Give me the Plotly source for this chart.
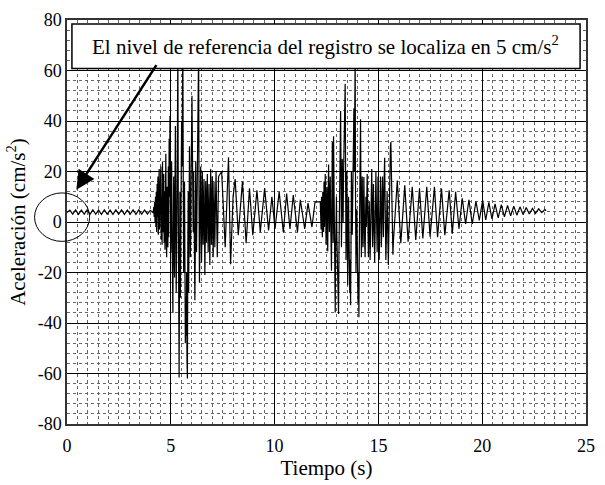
import numpy as np
import plotly.graph_objects as go

# ---------------- accelerogram record (time in s, acceleration in cm/s^2) ----------------
# pre-event ripple, evenly sampled from pre_t0 to pre_t1
pre_t0, pre_t1 = 0.0, 4.15
pre_a = [3.8, 4.7, 3.1, 4.8, 3.0, 4.7, 3.1, 4.8, 3.0, 4.8, 3.1, 4.7, 3.0, 4.8, 3.1, 4.7,
         3.0, 4.8, 3.1, 4.8, 3.0, 4.7, 3.1, 4.8, 3.0, 4.8, 3.1, 4.7, 3.2, 4.6, 3.6]

# first strong-motion burst, sampled every 0.02 s from burst1_t0 to burst1_t1
burst1_t0, burst1_t1 = 4.16, 7.30
burst1_a = [4.5, 6, 2, 8, 0, 10, -2, 12, -4, 15,
            2, 18, -5, 14, 21, -3, 16, 2, 22, -7,
            10, -9, 24, 6, -4, 19, -8, 12, -11, 20,
            27, -6, -14, 14, 4, -10, 22, -6, 33, 10,
            42, 6, -12, 8, 24, -5, -20, -36, -2, 18,
            -10, -22, 12, 38, 6, -28, -12, 8, 30, 68,
            10, -40, -61.6, -20, 12, -30, -8, 18, 40, 22,
            50, 70, 15, -20, 5, 16, -18, -48, -30, -45,
            -20, -55, -62, -10, 12, -28, -5, 30, 10, -14,
            -6, 20, 38, 50, 30, 10, -4, 20, 8, -20,
            -31, -10, 24, 5, -12, 10, 30, 15, 40, 68,
            10, -24, -10, 8, 22, 5, -16, -4, 20, 8,
            -9, 6, 17, 2, -21, -6, 16, 4, -8, 10,
            19, 3, -12, 0, 15, 6, -17, -2, 21, 8,
            -9, 4, 18, 2, -14, -3, 16, 6, -10, 2,
            15, 20, 8, -6, -14, -4, 12, 18]

# decaying oscillation between the two bursts
coda1_t = [7.45, 7.62, 7.78, 7.88, 8.00, 8.10, 8.25, 8.45, 8.63, 8.79, 8.95, 9.15, 9.31,
           9.52, 9.71, 9.87, 10.02, 10.22, 10.42, 10.58, 10.74, 10.90, 11.10, 11.24,
           11.45, 11.61, 11.80, 11.95]
coda1_a = [20, -10, 25.6, -16.7, 10, 17, -5.2, 16, -8.4, 13.4, -5.2, 12.6, -4,
           13.4, -3.3, 10, -2.7, 12, -4, 11.3, -2.7, 10.7, -4, 8.8,
           -2.7, 7.5, -2, 8]

# second strong-motion burst, sampled every 0.02 s from burst2_t0 to burst2_t1
burst2_t0, burst2_t1 = 12.20, 15.72
burst2_a = [8, 0, -3, 10, 4, -6, 12, 2, -4, 16,
            -2, 8, 19, 4, -9, 6, 14, -5, -11.6, 10,
            22.8, 8, -4, 12, 18, 2, -10, -19.3, 10, 31.7,
            12, -8, 34, 20, -6, -20, -35.8, -12, 4, 10,
            -6, -20, -10, -28, -36.4, -12, 12, 2, 26, 44,
            20, -10, 4, 25, 10, 0, 18, 30, 42, 50,
            54.7, 20, -15, 4, 20, -5, -25, -10, 10, -8,
            -20, -28, -15, -33, -10, 20, 8, -5, 10, 30,
            38, 45, 20, 40, 65, 10, -20, -5, 5, -15,
            -25, -32, -20, -37.7, -10, 12, 30, 40.7, 10, -14,
            -4, 18, 8, -10, 2, 17.8, 6, -8, -14, 0,
            10, -2, 6, 19, 8, -6, -14, -2, 8, -4,
            -15, -6, 10, 2, 21, 6, -10, -2, 15, 4,
            -8, -16, -4, 12, 20, 8, -6, -12, 2, 18,
            8, -8, -15, -3, 10, 18, 6, -10, -4, 12,
            18, 6, -6, 10, 20, 25.4, 10, -6, -15, -8,
            4, 12, 2, -10, -17, -6, 8, 18, 26, 30,
            31.7, 22, 8, -4, -10, -13, -8]

# final decaying tail
coda2_t = [15.91, 16.08, 16.27, 16.43, 16.63, 16.80, 16.98, 17.14, 17.33, 17.49, 17.70,
           17.85, 18.04, 18.20, 18.41, 18.56, 18.72, 18.88, 19.04, 19.20, 19.36, 19.52,
           19.70, 19.86, 20.02, 20.17, 20.32, 20.47, 20.62, 20.77, 20.92, 21.07, 21.22,
           21.37, 21.52, 21.67, 21.82, 21.97, 22.12, 22.27, 22.42, 22.57, 22.72, 22.87,
           23.02, 23.07]
coda2_a = [16.4, -8.4, 14.5, -7.8, 13.9, -7.1, 13.3, -6.5, 13.9, -5.8, 13.9,
           -6.0, 13.3, -5.2, 12.6, -4.6, 12.0, -2.7, 9.4, -0.8, 8.8, -0.8,
           8.2, 0.6, 8.6, 0.8, 7.8, 1.2, 7.2, 1.6, 6.9, 2.0, 6.6,
           2.4, 6.3, 2.7, 6.0, 3.0, 5.7, 3.2, 5.4, 3.4, 5.2, 3.7,
           5.0, 4.4]

# axis ticks
x_ticks = [0, 5, 10, 15, 20, 25]
x_tick_text = ["0", "5", "10", "15", "20", "25"]
y_ticks = [-80, -60, -40, -20, 0, 20, 40, 60, 80]
y_tick_text = ["-80", "-60", "-40", "-20", "0", "20", "40", "60", "80"]

x_title = "Tiempo (s)"
y_title = "Aceleración (cm/s<sup>2</sup>)"
note_text = "El nivel de referencia del registro se localiza en 5 cm/s<sup>2</sup>"

# ---------------- assemble the series ----------------
t = np.concatenate([
    np.linspace(pre_t0, pre_t1, len(pre_a)),
    np.linspace(burst1_t0, burst1_t1, len(burst1_a)),
    coda1_t,
    np.linspace(burst2_t0, burst2_t1, len(burst2_a)),
    coda2_t,
])
a = np.concatenate([pre_a, burst1_a, coda1_a, burst2_a, coda2_a])

X_RANGE = [0, 25]
Y_RANGE = [-80, 80]
SERIF = "Liberation Serif, DejaVu Serif"

fig = go.Figure()
fig.add_trace(go.Scatter(x=t, y=a, mode="lines",
                         line=dict(color="black", width=1.2), showlegend=False,
                         hoverinfo="skip"))

axis_common = dict(
    showgrid=True, gridcolor="black", gridwidth=1,
    showline=True, mirror=True, linecolor="#333333", linewidth=1.5,
    zeroline=False,
)

fig.update_xaxes(range=X_RANGE, tickvals=x_ticks, ticktext=x_tick_text,
                 tickfont=dict(family=SERIF, size=18, color="black"),
                 ticks="outside", ticklen=5, tickcolor="rgba(0,0,0,0)",
                 minor=dict(dtick=0.5, showgrid=True, gridcolor="#666666",
                            griddash="dot", gridwidth=1),
                 title=dict(text=x_title, standoff=4,
                            font=dict(family=SERIF, size=21, color="black")),
                 **axis_common)
fig.update_yaxes(range=Y_RANGE, tickvals=y_ticks, ticktext=y_tick_text,
                 tickfont=dict(family=SERIF, size=18, color="black"),
                 ticks="",
                 minor=dict(dtick=4, showgrid=True, gridcolor="#666666",
                            griddash="dot", gridwidth=1),
                 title=dict(text=y_title, standoff=6,
                            font=dict(family=SERIF, size=21, color="black")),
                 **axis_common)

# note box across the top of the plot
fig.add_shape(type="rect", xref="paper", yref="paper",
              x0=0.0095, x1=0.9886, y0=0.880, y1=0.990,
              fillcolor="white", line=dict(color="black", width=1.5), layer="above")
fig.add_annotation(x=0.499, y=0.936, xref="paper", yref="paper",
                   text=note_text, showarrow=False, xanchor="center", yanchor="middle",
                   font=dict(family="Liberation Serif", size=21, color="black"))

# circle marking the reference level on the left edge
fig.add_shape(type="circle", xref="paper", yref="paper",
              x0=-0.0625, x1=0.0436, y0=0.452, y1=0.572,
              line=dict(color="black", width=1), layer="above")

# arrow from the note down to the circle
fig.add_annotation(x=0.45, y=12.8, xref="x", yref="y", text="",
                   showarrow=True, ax=81, ay=-126,
                   arrowhead=2, arrowsize=1.5, arrowwidth=2.5, arrowcolor="black")

fig.update_layout(
    width=605, height=485,
    margin=dict(l=67, r=10, t=14, b=53),
    paper_bgcolor="white", plot_bgcolor="white",
    font=dict(family="Liberation Serif", color="black"),
)

# redraw once the serif face is resolved so every label picks it up
redraw_js = """
var gd = document.getElementById('{plot_id}');
function redrawAll() {
  if (typeof Plotly.redraw === 'function') { Plotly.redraw(gd); }
  else { Plotly.newPlot(gd, gd.data, gd.layout); }
}
if (document.fonts && document.fonts.load) {
  Promise.all([
    document.fonts.load("18px 'Liberation Serif'"),
    document.fonts.load("21px 'Liberation Serif'")
  ]).then(redrawAll, redrawAll);
} else {
  redrawAll();
}
"""

fig.write_html("out.html", post_script=redraw_js)
